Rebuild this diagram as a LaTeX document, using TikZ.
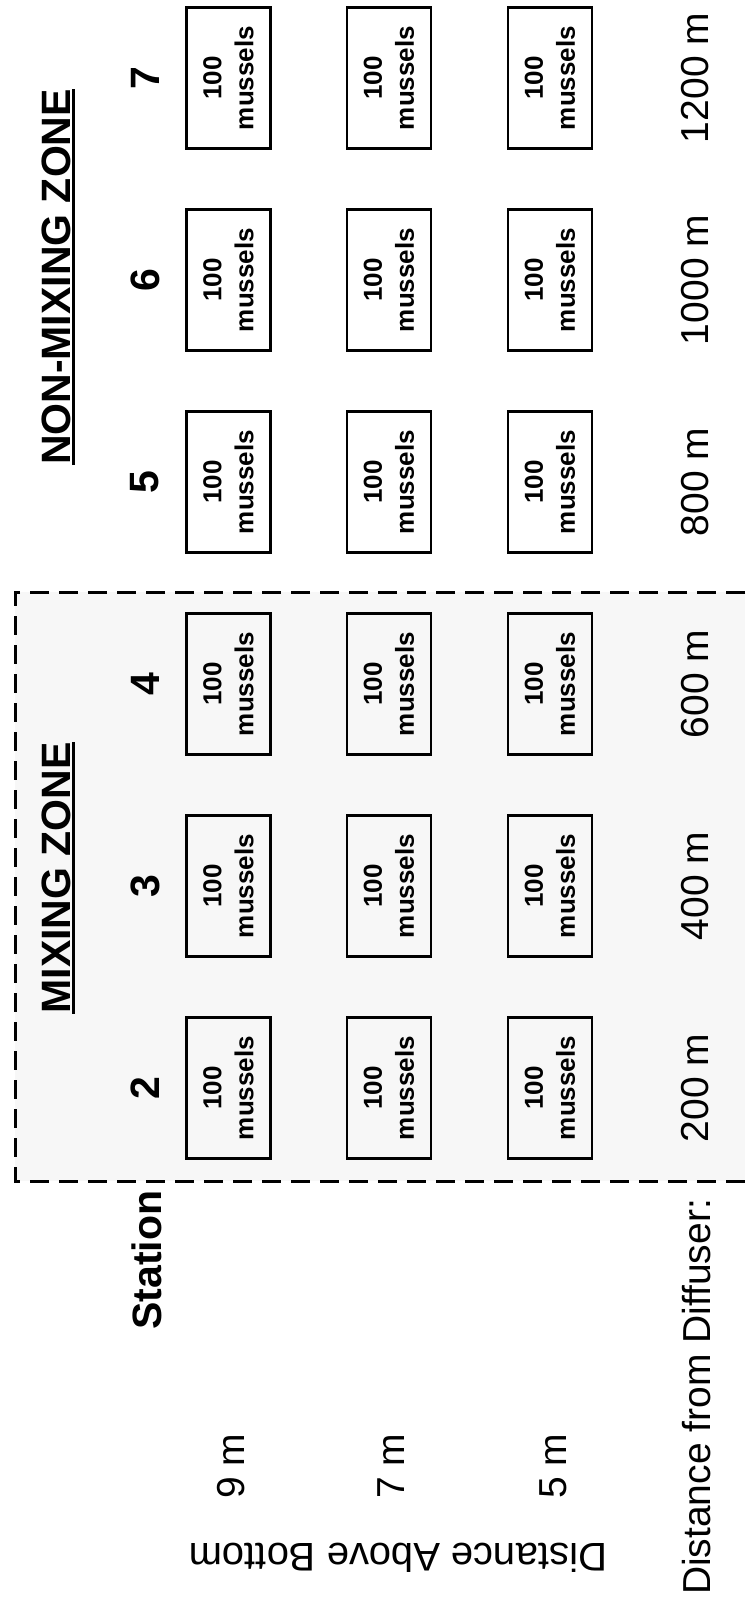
\documentclass[tikz,border=0pt]{standalone}
\usepackage{fontspec}
\setmainfont{Liberation Sans}
\usetikzlibrary{positioning}

\begin{document}
\begin{tikzpicture}[
    x=1pt, y=-1pt,
    cage/.style = {draw, line width=2.8pt, rotate=90, minimum width=141pt,
                   minimum height=84pt, inner sep=0pt, align=center,
                   font=\bfseries\fontsize{26}{32}\selectfont},
    stn/.style = {rotate=90, inner sep=0pt, font=\bfseries\fontsize{41}{48}\selectfont},
    lbl/.style = {rotate=90, inner sep=0pt, font=\fontsize{39}{46}\selectfont},
    zone/.style = {dash pattern=on 19pt off 10pt, line width=3pt}
  ]
  \useasboundingbox (0,0) rectangle (745,1611);

  % mixing zone frame
  \coordinate (mzTR) at (745,592);
  \coordinate (mzTL) at (15,592);
  \coordinate (mzBL) at (15,1181);
  \coordinate (mzBR) at (745,1181);
  \fill[black!3] (mzTL) rectangle (mzBR);
  \draw[zone] (mzTR) -- (mzTL) -- (mzBL) -- (mzBR);

  % stations, cages and distances
  \foreach \s/\yc/\d in {7/78/1200, 6/280/1000, 5/482/800, 4/684/600, 3/886/400, 2/1088/200} {
    \node[stn] (st\s) at (145,\yc) {\s};
    \foreach \h/\xc in {9/228.5, 7/389, 5/550}
      \node[cage] (m\s-\h) at (\xc,\yc) {100\\mussels};
    \node[lbl] (d\s) at (695,\yc) {\d\ m};
  }

  \node[stn] (station) at (147,1260) {Station};
  \node[lbl] (h9) at (231,1466) {9 m};
  \node[lbl] (h7) at (391,1466) {7 m};
  \node[lbl] (h5) at (553,1466) {5 m};
  \node[lbl] (diffuser) at (697,1397) {Distance from Diffuser:};
  \node[rotate=180, inner sep=0pt, font=\fontsize{40}{48}\selectfont] (above) at (398,1558) {Distance Above Bottom};

  % zone titles
  \node[stn] (mix) at (56,878) {MIXING ZONE};
  \node[stn] (nonmix) at (56,277) {NON-MIXING ZONE};
  \draw[line width=2.6pt] ([xshift=2.5pt]mix.south west) -- ([xshift=2.5pt]mix.south east);
  \draw[line width=2.6pt] ([xshift=2.5pt]nonmix.south west) -- ([xshift=2.5pt]nonmix.south east);
\end{tikzpicture}
\end{document}
